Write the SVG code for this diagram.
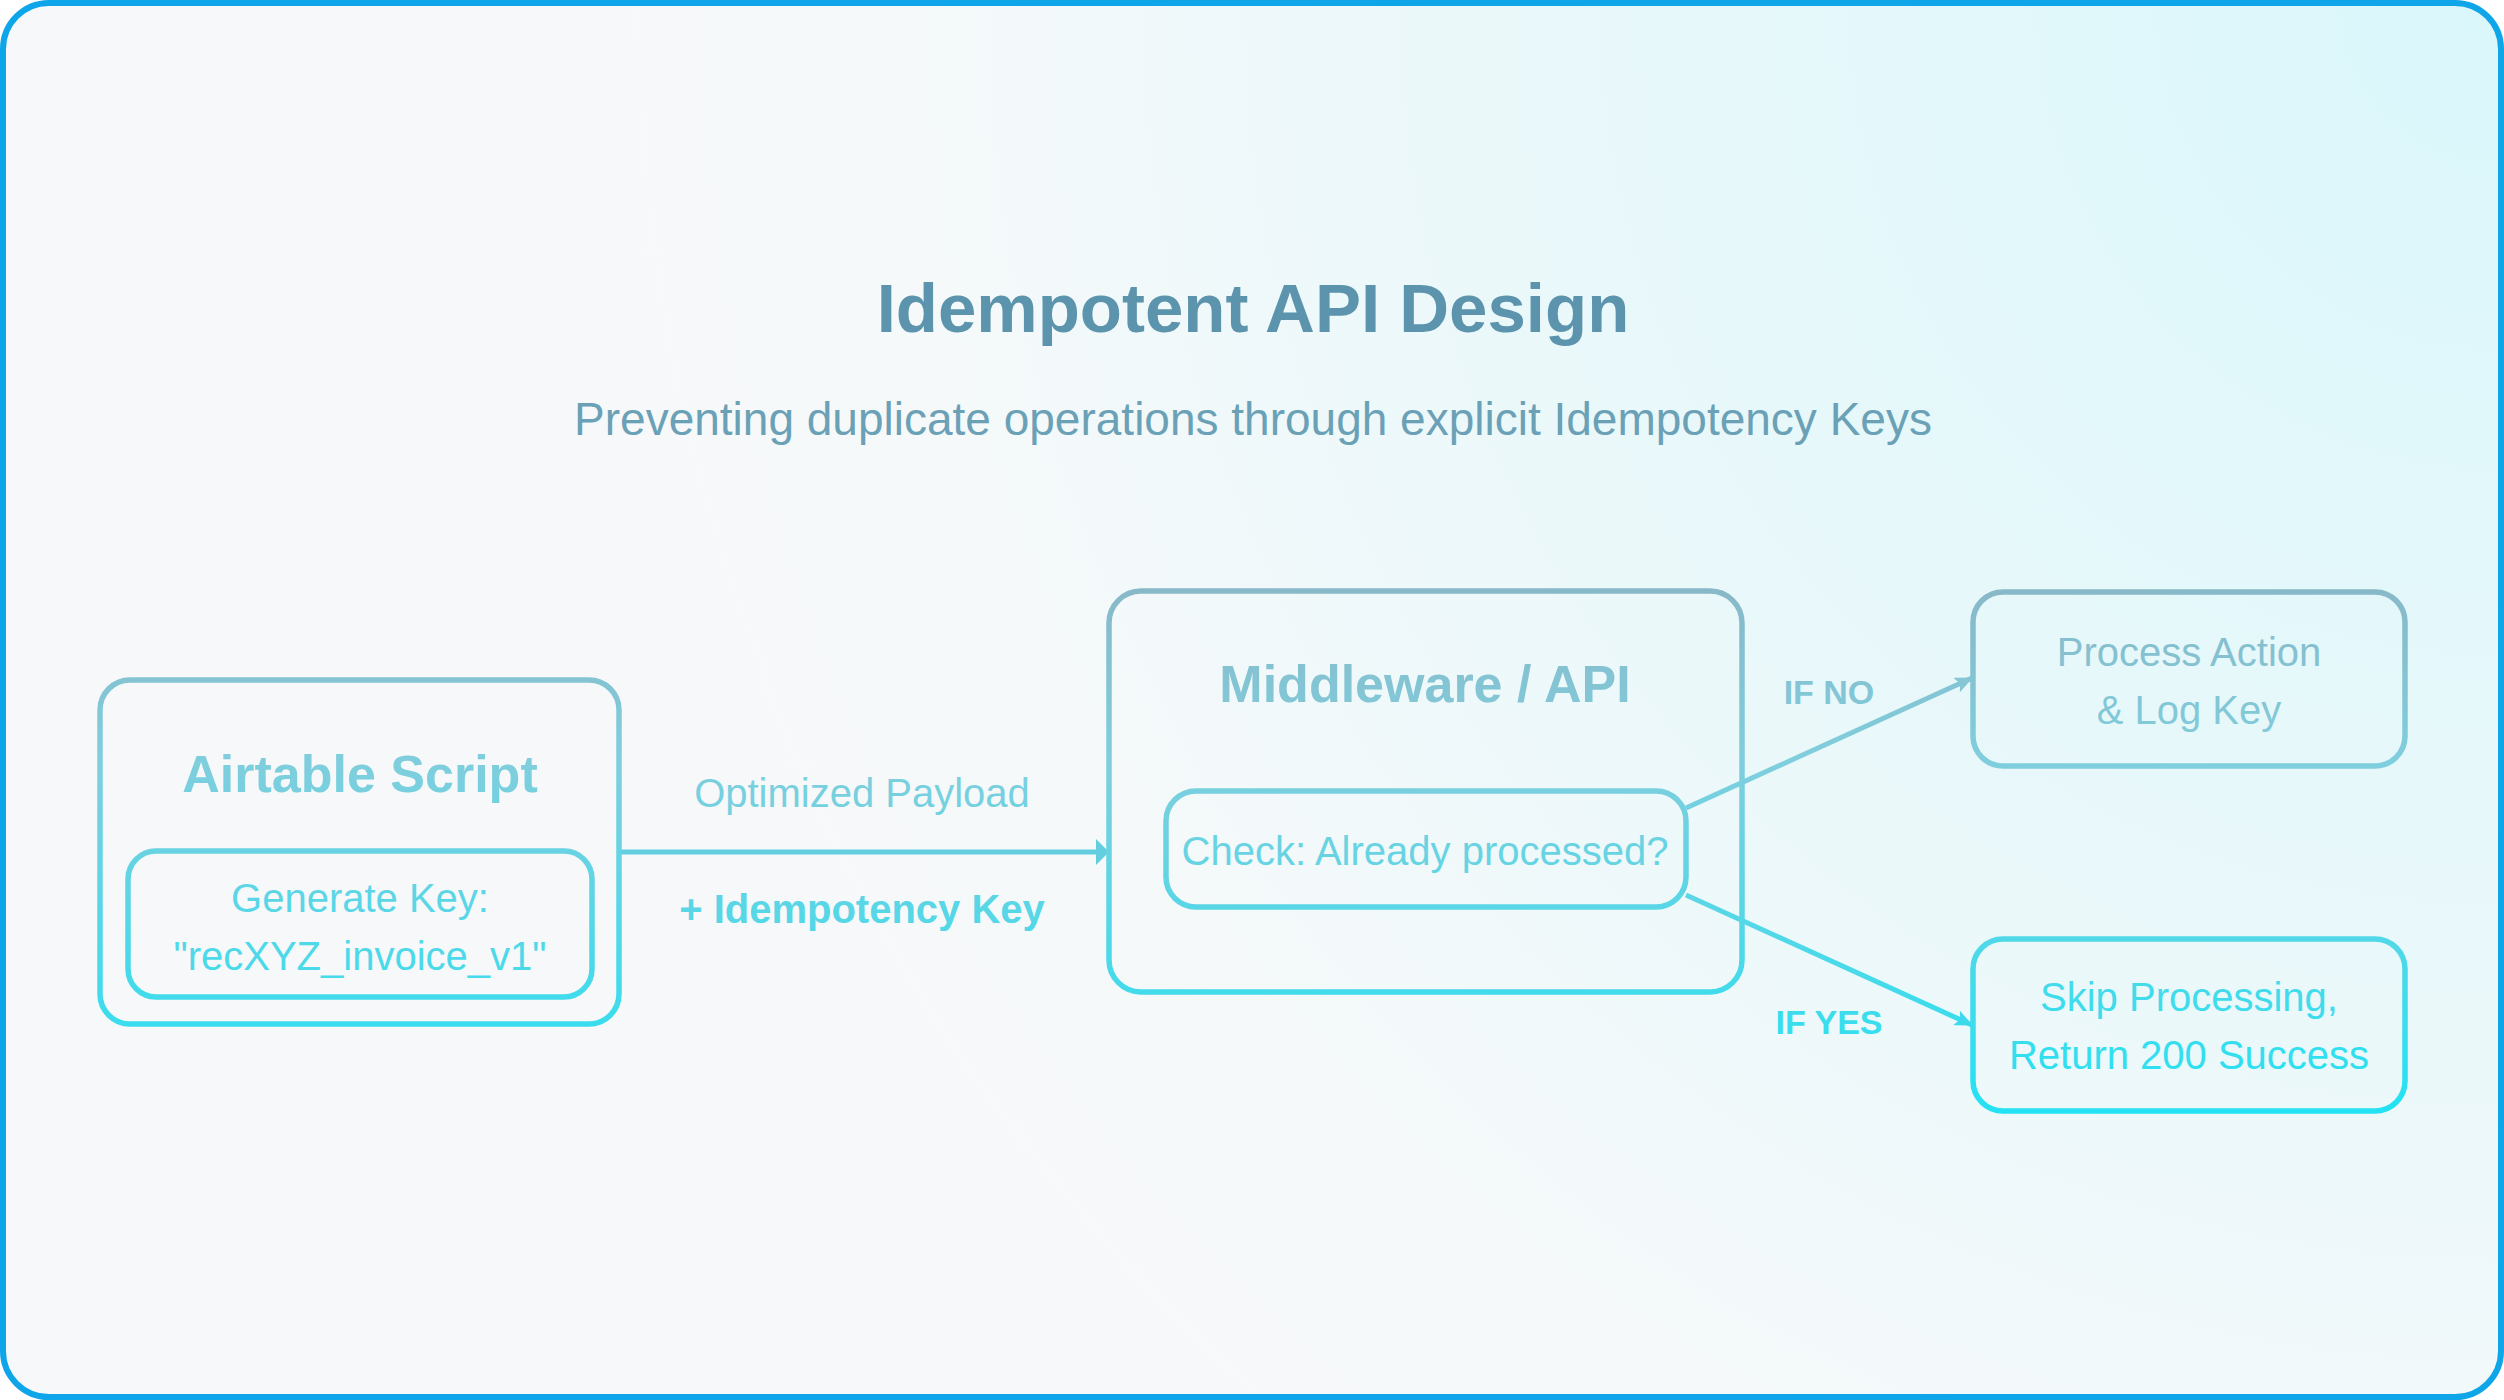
<svg xmlns="http://www.w3.org/2000/svg" width="2504" height="1400" viewBox="0 0 2504 1400">
  <defs>
    <radialGradient id="bg" gradientUnits="userSpaceOnUse" cx="2504" cy="0" r="2000">
      <stop offset="0" stop-color="#daf7fb"/>
      <stop offset="0.45" stop-color="#e8f8fa"/>
      <stop offset="0.8" stop-color="#f5f9fa"/>
      <stop offset="1" stop-color="#f7f8f9"/>
    </radialGradient>
    <linearGradient id="g" gradientUnits="userSpaceOnUse" x1="0" y1="585" x2="0" y2="1115">
      <stop offset="0" stop-color="#88b8c8"/>
      <stop offset="0.33" stop-color="#80cedd"/>
      <stop offset="1" stop-color="#22e2f3"/>
    </linearGradient>
    <marker id="ahH" markerUnits="userSpaceOnUse" markerWidth="14" markerHeight="26" refX="12" refY="13" orient="auto">
      <path d="M0,0 L13,13 L0,26 Z" fill="#62cee0"/>
    </marker>
    <marker id="ahUp" markerUnits="userSpaceOnUse" markerWidth="18" markerHeight="16" refX="17" refY="8" orient="auto">
      <path d="M0,0 L18,8 L0,16 L4,8 Z" fill="#86c6d5"/>
    </marker>
    <marker id="ahDn" markerUnits="userSpaceOnUse" markerWidth="18" markerHeight="16" refX="17" refY="8" orient="auto">
      <path d="M0,0 L18,8 L0,16 L4,8 Z" fill="#3ddaed"/>
    </marker>
  </defs>
  <style>
    text { font-family: "Liberation Sans", Arial, Helvetica, sans-serif; text-anchor: middle; }
    .box { fill: none; stroke: url(#g); stroke-width: 5.5; }
    .conn { fill: none; stroke-width: 5; }
    .head { font-size: 52px; font-weight: bold; fill: url(#g); }
    .body { font-size: 40px; fill: url(#g); }
    .lbl { font-size: 34px; font-weight: bold; fill: url(#g); }
  </style>

  <rect x="3" y="3" width="2498" height="1394" rx="46" fill="url(#bg)" stroke="#0ea5e9" stroke-width="6"/>

  <g id="title">
    <text x="1253" y="332" font-size="69" font-weight="bold" fill="#5b94ac">Idempotent API Design</text>
    <text x="1253" y="435" font-size="46" fill="#6ba1b6">Preventing duplicate operations through explicit Idempotency Keys</text>
  </g>

  <g id="connectors">
    <line class="conn" x1="619" y1="852" x2="1108" y2="852" stroke="#62cee0" marker-end="url(#ahH)"/>
    <text class="body" x="862" y="807">Optimized Payload</text>
    <text class="body" x="862" y="923" font-weight="bold">+ Idempotency Key</text>
    <line class="conn" x1="1686" y1="808" x2="1972" y2="678" stroke="url(#g)" marker-end="url(#ahUp)"/>
    <line class="conn" x1="1686" y1="895" x2="1972" y2="1025" stroke="url(#g)" marker-end="url(#ahDn)"/>
    <text class="lbl" x="1829" y="704">IF NO</text>
    <text class="lbl" x="1829" y="1034">IF YES</text>
  </g>

  <g id="airtable-script">
    <rect class="box" x="100" y="680" width="519" height="344" rx="30"/>
    <text class="head" x="360" y="792">Airtable Script</text>
    <g id="generate-key">
      <rect class="box" x="128" y="851" width="464" height="146" rx="28"/>
      <text class="body" x="360" y="912">Generate Key:</text>
      <text class="body" x="360" y="970">"recXYZ_invoice_v1"</text>
    </g>
  </g>

  <g id="middleware-api">
    <rect class="box" x="1109" y="591" width="633" height="401" rx="32"/>
    <text class="head" x="1425" y="702">Middleware / API</text>
    <g id="check">
      <rect class="box" x="1166" y="791" width="520" height="116" rx="30"/>
      <text class="body" x="1425" y="865">Check: Already processed?</text>
    </g>
  </g>

  <g id="process-action">
    <rect class="box" x="1973" y="592" width="432" height="174" rx="30"/>
    <text class="body" x="2189" y="666">Process Action</text>
    <text class="body" x="2189" y="724">&amp; Log Key</text>
  </g>

  <g id="skip-processing">
    <rect class="box" x="1973" y="939" width="432" height="172" rx="30"/>
    <text class="body" x="2189" y="1011">Skip Processing,</text>
    <text class="body" x="2189" y="1069">Return 200 Success</text>
  </g>
</svg>
